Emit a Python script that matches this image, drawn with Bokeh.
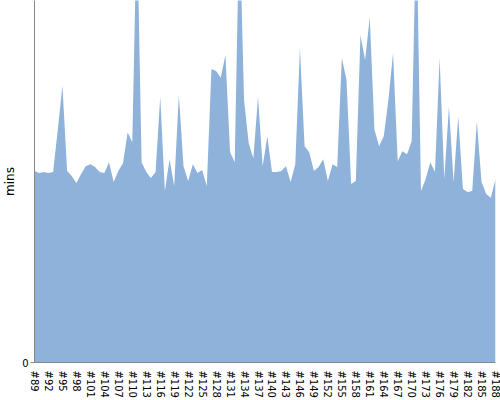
from bokeh.plotting import figure
from bokeh.models import Range1d, FixedTicker, ColumnDataSource
from bokeh.embed import file_html
from bokeh.resources import INLINE

categories = ["#%d" % n for n in range(89, 189)]

# minutes per build (peaks beyond the top are clipped)
minutes = [
    19.3, 19.1, 19.2, 19.1, 19.2, 23.5, 27.9, 19.3, 18.8, 18.1,
    19.0, 19.8, 20.0, 19.7, 19.2, 19.1, 20.2, 18.2, 19.3, 20.1,
    23.2, 22.2, 45.0, 20.2, 19.2, 18.6, 19.2, 26.8, 17.3, 20.5,
    17.8, 27.0, 19.8, 18.3, 20.0, 19.1, 19.4, 17.8, 29.6, 29.4,
    28.7, 31.0, 21.2, 20.2, 45.0, 26.5, 22.1, 20.6, 26.8, 19.8,
    22.8, 19.2, 19.2, 19.3, 19.8, 18.2, 20.0, 31.7, 21.8, 21.2,
    19.3, 19.7, 20.5, 18.3, 20.0, 19.7, 30.7, 28.5, 18.0, 18.3,
    33.0, 30.5, 34.8, 23.5, 21.8, 22.8, 26.5, 31.2, 20.3, 21.3,
    21.0, 22.3, 45.0, 17.3, 18.5, 20.2, 19.2, 30.7, 18.5, 25.8,
    18.2, 24.8, 17.5, 17.2, 17.3, 24.3, 18.2, 17.0, 16.6, 18.5,
]

idx = list(range(len(categories)))
source = ColumnDataSource(data=dict(x=idx, y=minutes, cat=categories))

p = figure(width=500, height=400, output_backend="svg", toolbar_location=None,
           x_range=Range1d(0, len(categories) - 1), y_range=Range1d(0, 36.5),
           min_border_left=0, min_border_right=5, min_border_top=0, min_border_bottom=0)

p.varea(x="x", y1=0, y2="y", source=source, fill_color="#8FB2DB", fill_alpha=1.0)

p.outline_line_color = None
p.xgrid.grid_line_color = None
p.ygrid.grid_line_color = None
p.background_fill_color = "white"

# x axis: every 3rd build label
ticks = idx[::3]
p.xaxis.ticker = FixedTicker(ticks=ticks)
p.xaxis.major_label_overrides = {i: categories[i] for i in ticks}
p.xaxis.major_label_orientation = "vertical"
p.xaxis.major_tick_line_color = None
p.xaxis.minor_tick_line_color = None
p.xaxis.axis_line_color = "#888888"
p.xaxis.major_label_text_font = "DejaVu Sans"
p.xaxis.major_label_text_font_size = "10px"
p.xaxis.major_label_text_color = "#000000"
p.xaxis.major_label_standoff = 2

# y axis
p.yaxis.ticker = FixedTicker(ticks=[0])
p.yaxis.axis_label = "mins"
p.yaxis.axis_label_text_font = "DejaVu Sans"
p.yaxis.axis_label_text_font_size = "12px"
p.yaxis.axis_label_text_font_style = "normal"
p.yaxis.axis_label_text_color = "#000000"
p.yaxis.axis_label_standoff = 2
p.yaxis.major_label_text_font = "DejaVu Sans"
p.yaxis.major_label_text_font_size = "10px"
p.yaxis.major_label_text_color = "#000000"
p.yaxis.major_label_standoff = 2
p.yaxis.major_tick_out = 4
p.yaxis.major_tick_in = 0
p.yaxis.minor_tick_line_color = None
p.yaxis.axis_line_color = "#888888"
p.yaxis.major_tick_line_color = "#888888"

open("out.html", "w").write(file_html(p, INLINE))
